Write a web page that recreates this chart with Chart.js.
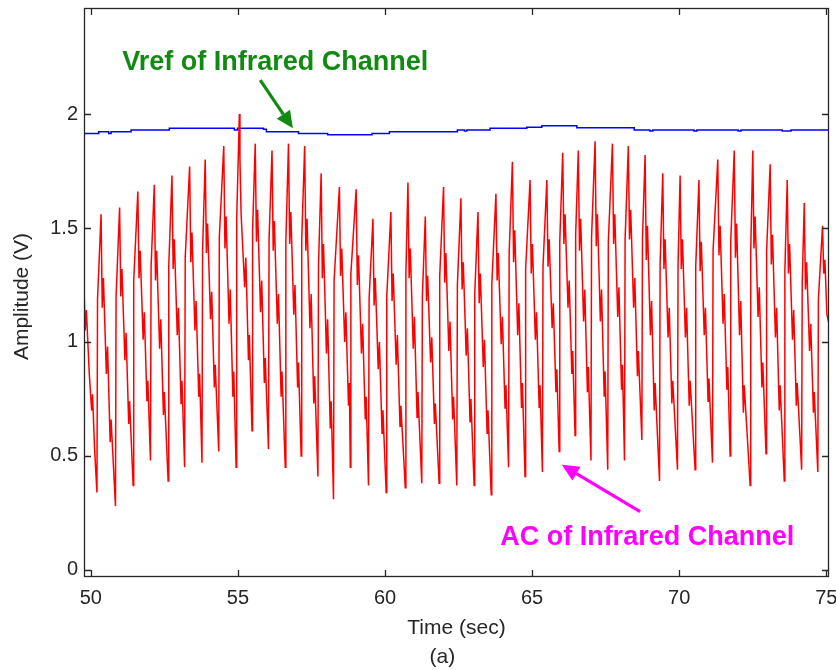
<!DOCTYPE html>
<html><head><meta charset="utf-8">
<script src="https://cdn.jsdelivr.net/npm/chart.js@4/dist/chart.umd.min.js"></script>
<style>html,body{margin:0;padding:0;background:#fff}canvas{display:block}</style>
</head><body>
<canvas id="c" width="836" height="670"></canvas>
<script>
// AC of Infrared Channel (red): time (s) and amplitude (V)
const acTime = [
49.77,49.81,49.85,49.95,50.03,50.06,50.13,
50.21,50.23,50.35,50.39,50.43,50.53,50.57,50.66,50.69,
50.84,50.86,50.98,51.02,51.06,51.16,51.20,51.29,51.32,
51.44,51.46,51.60,51.64,51.68,51.78,51.82,51.91,51.94,
52.03,52.05,52.16,52.20,52.24,52.34,52.38,52.47,52.50,
52.63,52.65,52.76,52.80,52.84,52.94,52.98,53.07,53.10,
53.19,53.21,53.36,53.40,53.44,53.54,53.58,53.67,53.70,
53.78,53.80,53.89,53.93,53.97,54.07,54.11,54.20,54.23,
54.35,54.37,54.52,54.56,54.60,54.70,54.74,54.83,54.86,
54.94,54.96,55.05,55.07,55.11,55.23,55.27,55.36,55.39,
55.48,55.50,55.59,55.63,55.67,55.77,55.81,55.90,55.93,
56.04,56.06,56.16,56.20,56.24,56.34,56.38,56.47,56.50,
56.61,56.63,56.72,56.76,56.80,56.90,56.94,57.03,57.06,
57.15,57.17,57.27,57.31,57.35,57.45,57.49,57.58,57.61,
57.72,57.74,57.83,57.87,57.91,58.01,58.05,58.14,58.17,
58.25,58.27,58.45,58.49,58.53,58.63,58.67,58.76,58.79,
58.82,58.84,59.02,59.06,59.10,59.20,59.24,59.33,59.36,
59.44,59.46,59.59,59.63,59.67,59.77,59.81,59.90,59.93,
60.04,60.06,60.20,60.24,60.28,60.38,60.42,60.51,60.54,
60.69,60.71,60.78,60.82,60.86,60.96,61.00,61.09,61.12,
61.25,61.27,61.37,61.41,61.45,61.55,61.59,61.68,61.71,
61.84,61.86,61.99,62.03,62.07,62.17,62.21,62.30,62.33,
62.44,62.46,62.58,62.62,62.66,62.76,62.80,62.89,62.92,
63.03,63.05,63.16,63.20,63.24,63.34,63.38,63.47,63.50,
63.61,63.63,63.77,63.81,63.85,63.95,63.99,64.08,64.11,
64.20,64.22,64.33,64.37,64.41,64.51,64.55,64.64,64.67,
64.76,64.78,64.93,64.97,65.01,65.11,65.15,65.24,65.27,
65.35,65.37,65.50,65.54,65.58,65.68,65.72,65.81,65.84,
65.92,65.94,66.04,66.08,66.12,66.22,66.26,66.35,66.38,
66.46,66.48,66.57,66.61,66.65,66.75,66.79,66.88,66.91,
67.00,67.02,67.14,67.18,67.22,67.32,67.36,67.45,67.48,
67.57,67.59,67.73,67.77,67.81,67.91,67.95,68.04,68.07,
68.14,68.16,68.27,68.31,68.35,68.45,68.49,68.58,68.61,
68.73,68.75,68.84,68.88,68.92,69.02,69.06,69.15,69.18,
69.33,69.35,69.44,69.48,69.52,69.62,69.66,69.75,69.78,
69.94,69.96,70.03,70.07,70.11,70.21,70.25,70.34,70.37,
70.54,70.56,70.67,70.71,70.75,70.85,70.89,70.98,71.01,
71.13,71.15,71.31,71.35,71.39,71.49,71.53,71.62,71.65,
71.73,71.75,71.87,71.91,71.95,72.05,72.09,72.18,72.21,
72.41,72.43,72.50,72.54,72.58,72.68,72.72,72.81,72.84,
72.95,72.97,73.09,73.13,73.17,73.27,73.31,73.40,73.43,
73.57,73.59,73.67,73.71,73.75,73.85,73.89,73.98,74.01,
74.16,74.18,74.25,74.29,74.33,74.43,74.47,74.56,74.59,
74.71,74.73,74.87,74.91,74.95,75.02,75.09
];
const acValue = [
1.24,1.05,1.14,0.86,0.70,0.77,0.53,
0.34,1.19,1.56,1.15,1.28,0.86,0.98,0.56,0.66,
0.28,1.20,1.59,1.20,1.32,0.92,1.04,0.64,0.74,
0.37,1.27,1.66,1.28,1.40,1.01,1.13,0.74,0.83,
0.48,1.33,1.69,1.27,1.40,0.97,1.10,0.68,0.78,
0.39,1.33,1.73,1.32,1.45,1.03,1.15,0.73,0.83,
0.45,1.37,1.77,1.35,1.48,1.05,1.18,0.76,0.86,
0.47,1.40,1.80,1.39,1.52,1.10,1.22,0.80,0.90,
0.52,1.46,1.86,1.41,1.55,1.08,1.23,0.76,0.87,
0.45,1.54,2.00,1.80,1.56,1.24,1.37,0.92,1.03,
0.61,1.49,1.87,1.44,1.58,1.13,1.27,0.82,0.93,
0.53,1.45,1.84,1.40,1.53,1.08,1.21,0.76,0.87,
0.45,1.44,1.87,1.43,1.57,1.12,1.25,0.80,0.91,
0.50,1.45,1.86,1.40,1.54,1.06,1.21,0.73,0.85,
0.41,1.34,1.74,1.28,1.43,0.95,1.10,0.62,0.74,
0.31,1.27,1.68,1.29,1.41,1.00,1.13,0.72,0.82,
0.45,1.30,1.67,1.25,1.38,0.95,1.08,0.66,0.76,
0.37,1.19,1.54,1.16,1.28,0.88,1.00,0.60,0.70,
0.34,1.20,1.57,1.18,1.30,0.90,1.03,0.63,0.72,
0.36,1.30,1.70,1.28,1.41,0.97,1.11,0.67,0.78,
0.38,1.20,1.55,1.18,1.29,0.91,1.02,0.64,0.73,
0.38,1.29,1.68,1.26,1.39,0.96,1.09,0.66,0.76,
0.37,1.25,1.63,1.23,1.35,0.94,1.06,0.65,0.75,
0.37,1.21,1.57,1.17,1.30,0.89,1.01,0.60,0.70,
0.33,1.25,1.65,1.27,1.39,0.99,1.11,0.71,0.81,
0.45,1.39,1.79,1.35,1.49,1.03,1.17,0.71,0.82,
0.41,1.32,1.71,1.30,1.43,1.01,1.13,0.71,0.81,
0.43,1.33,1.71,1.33,1.45,1.06,1.17,0.78,0.88,
0.52,1.44,1.83,1.43,1.56,1.15,1.27,0.86,0.96,
0.59,1.47,1.84,1.40,1.54,1.09,1.23,0.78,0.89,
0.48,1.46,1.88,1.42,1.56,1.09,1.23,0.76,0.87,
0.44,1.44,1.87,1.43,1.56,1.11,1.24,0.79,0.90,
0.48,1.45,1.86,1.45,1.58,1.15,1.28,0.85,0.96,
0.57,1.45,1.82,1.36,1.51,1.03,1.18,0.70,0.82,
0.39,1.34,1.74,1.32,1.45,1.02,1.15,0.73,0.83,
0.44,1.34,1.73,1.32,1.45,1.02,1.15,0.72,0.83,
0.44,1.33,1.71,1.31,1.44,1.03,1.15,0.74,0.84,
0.47,1.40,1.80,1.38,1.51,1.08,1.21,0.79,0.89,
0.50,1.44,1.84,1.37,1.52,1.03,1.18,0.69,0.81,
0.37,1.40,1.84,1.41,1.55,1.11,1.24,0.80,0.91,
0.51,1.40,1.78,1.34,1.47,1.02,1.15,0.70,0.81,
0.39,1.31,1.71,1.30,1.43,1.01,1.14,0.72,0.82,
0.44,1.26,1.61,1.23,1.35,0.96,1.08,0.69,0.78,
0.43,1.19,1.51,1.30,1.36,1.12,1.08
];
// Vref of Infrared Channel (blue)
const vrefTime = [49.77,50.22,50.27,50.53,50.61,50.69,51.32,51.37,52.61,52.67,54.77,54.88,54.99,55.87,55.97,57.01,57.06,57.97,58.05,59.50,59.56,60.09,60.15,62.39,62.46,62.70,62.78,63.01,63.57,64.82,65.33,66.40,66.52,68.39,68.47,69.00,69.10,70.50,70.60,72.00,72.10,73.50,73.80,75.09];
const vrefValue = [1.915,1.915,1.922,1.922,1.915,1.922,1.922,1.930,1.930,1.937,1.937,1.930,1.937,1.933,1.922,1.922,1.915,1.915,1.909,1.909,1.915,1.915,1.922,1.922,1.930,1.925,1.930,1.930,1.937,1.942,1.949,1.949,1.940,1.940,1.930,1.925,1.930,1.925,1.930,1.925,1.930,1.925,1.930,1.930];

const xTicks = [50,55,60,65,70,75];
const xTickLabels = ['50','55','60','65','70','75'];
const yTicks = [0,0.5,1,1.5,2];
const yTickLabels = ['0','0.5','1','1.5','2'];
const xRange = [49.77, 75.09];
const yRange = [-0.031, 2.465];

const FONT = '"Liberation Sans", Arial, Helvetica, sans-serif';

const decor = {
  id: 'decor',
  afterDraw(chart) {
    const {ctx, chartArea: a, scales: {x, y}} = chart;
    ctx.save();
    ctx.strokeStyle = '#262626';
    ctx.lineWidth = 1.3;
    ctx.strokeRect(a.left + 0.5, a.top + 0.5, a.right - a.left - 1, a.bottom - a.top - 1);
    const L = 7;
    ctx.beginPath();
    xTicks.forEach(v => {
      const px = Math.round(x.getPixelForValue(v)) + 0.5;
      ctx.moveTo(px, a.bottom); ctx.lineTo(px, a.bottom - L);
      ctx.moveTo(px, a.top); ctx.lineTo(px, a.top + L);
    });
    yTicks.forEach(v => {
      const py = Math.round(y.getPixelForValue(v)) + 0.5;
      ctx.moveTo(a.left, py); ctx.lineTo(a.left + L, py);
      ctx.moveTo(a.right, py); ctx.lineTo(a.right - L, py);
    });
    ctx.stroke();

    // axis titles
    ctx.fillStyle = '#262626';
    ctx.font = '21px ' + FONT;
    ctx.textAlign = 'center';
    ctx.textBaseline = 'middle';
    ctx.fillText('Time (sec)', (a.left + a.right) / 2, 628);
    ctx.fillText('(a)', x.getPixelForValue(61.95), 657);
    ctx.save();
    ctx.translate(22, (a.top + a.bottom) / 2 + 4);
    ctx.rotate(-Math.PI / 2);
    ctx.fillText('Amplitude (V)', 0, 0);
    ctx.restore();

    // annotations
    function arrow(x0, y0, x1, y1, color) {
      const X0 = x.getPixelForValue(x0), Y0 = y.getPixelForValue(y0);
      const X1 = x.getPixelForValue(x1), Y1 = y.getPixelForValue(y1);
      const ang = Math.atan2(Y1 - Y0, X1 - X0);
      const hl = 17, hw = 8;
      const bx = X1 - hl * Math.cos(ang), by = Y1 - hl * Math.sin(ang);
      ctx.strokeStyle = color; ctx.fillStyle = color;
      ctx.lineWidth = 3.2; ctx.lineCap = 'butt';
      ctx.beginPath(); ctx.moveTo(X0, Y0); ctx.lineTo(bx, by); ctx.stroke();
      ctx.beginPath();
      ctx.moveTo(X1, Y1);
      ctx.lineTo(bx + hw * Math.sin(ang), by - hw * Math.cos(ang));
      ctx.lineTo(bx - hw * Math.sin(ang), by + hw * Math.cos(ang));
      ctx.closePath(); ctx.fill();
    }
    ctx.font = 'bold 27px ' + FONT;
    ctx.textBaseline = 'alphabetic';
    ctx.fillStyle = '#118a11';
    ctx.fillText('Vref of Infrared Channel', x.getPixelForValue(56.27), y.getPixelForValue(2.193));
    arrow(55.76, 2.149, 56.87, 1.937, '#118a11');
    ctx.fillStyle = '#ff00ff';
    ctx.fillText('AC of Infrared Channel', x.getPixelForValue(68.91), y.getPixelForValue(0.110));
    arrow(68.67, 0.256, 66.01, 0.461, '#ff00ff');
    ctx.restore();
  }
};

new Chart(document.getElementById('c'), {
  type: 'line',
  data: {
    datasets: [
      {
        label: 'AC of Infrared Channel',
        data: acTime.map((t, i) => ({x: t, y: acValue[i]})),
        borderColor: '#ff0000', borderWidth: 1.5, pointRadius: 0, tension: 0, fill: false
      },
      {
        label: 'Vref of Infrared Channel',
        data: vrefTime.map((t, i) => ({x: t, y: vrefValue[i]})),
        borderColor: '#0000ff', borderWidth: 1.5, pointRadius: 0, stepped: true, fill: false
      }
    ]
  },
  options: {
    responsive: false,
    animation: false,
    layout: {padding: {left: 0, right: 7, top: 8, bottom: 0}},
    plugins: {legend: {display: false}, tooltip: {enabled: false}, title: {display: false}},
    scales: {
      x: {
        type: 'linear', min: xRange[0], max: xRange[1],
        grid: {display: false, drawTicks: false}, border: {display: false},
        afterFit(s) { s.height = 93; s.paddingLeft = 0; s.paddingRight = 0; },
        afterBuildTicks(s) { s.ticks = xTicks.map(v => ({value: v})); },
        ticks: {
          padding: 9, color: '#262626', font: {family: FONT, size: 20},
          maxRotation: 0, autoSkip: false,
          callback: (v) => xTickLabels[xTicks.indexOf(v)]
        }
      },
      y: {
        type: 'linear', min: yRange[0], max: yRange[1],
        grid: {display: false, drawTicks: false}, border: {display: false},
        afterFit(s) { s.width = 84; s.paddingTop = 0; s.paddingBottom = 0; },
        afterBuildTicks(s) { s.ticks = yTicks.map(v => ({value: v})); },
        ticks: {
          padding: 6, color: '#262626', font: {family: FONT, size: 20}, autoSkip: false,
          callback: (v) => yTickLabels[yTicks.indexOf(v)]
        }
      }
    }
  },
  plugins: [decor]
});
</script>
</body></html>
